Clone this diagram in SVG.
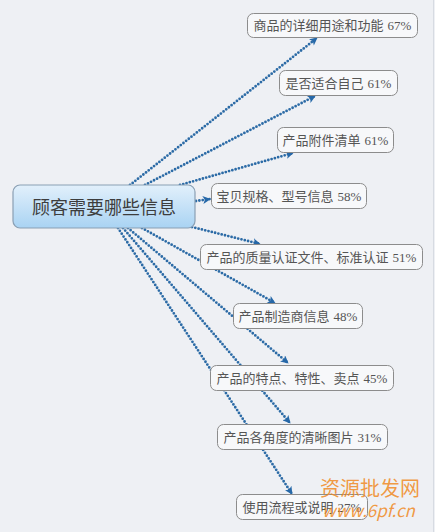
<svg xmlns="http://www.w3.org/2000/svg" width="435" height="532" viewBox="0 0 435 532">
<defs>
<linearGradient id="rootGrad" x1="0" y1="0" x2="0" y2="1">
<stop offset="0" stop-color="#e2f0fb"/>
<stop offset="1" stop-color="#a9d3f3"/>
</linearGradient>
<marker id="arr" viewBox="0 0 10 10" refX="9" refY="5" markerWidth="9" markerHeight="8" markerUnits="userSpaceOnUse" orient="auto">
<path d="M0,0 L10,5 L0,10 L2.5,5 Z" fill="#2668a8"/>
</marker>
</defs>
<style>
.bg{fill:#eef0f4}
.node rect{fill:#f7f8fa;stroke:#8c8c8c;stroke-width:1}
.node text{font-family:"Liberation Serif","Noto Sans CJK SC",serif;font-size:13px;fill:#555;text-anchor:middle}
#root rect{fill:url(#rootGrad);stroke:#8a9fb3;stroke-width:1.2}
#root text{font-family:"Liberation Serif","Noto Sans CJK SC",serif;font-size:18px;fill:#3d3d3d;text-anchor:middle}
#connectors path{fill:none;stroke:#2c6ba6;stroke-width:2.8;stroke-linecap:round;stroke-dasharray:0 3.4;marker-end:url(#arr)}
.wm{font-family:"Noto Sans CJK SC",sans-serif;fill:#f08a24;fill-opacity:0.85}
</style>
<rect class="bg" x="0" y="0" width="435" height="532"/>
<line x1="433.5" y1="0" x2="433.5" y2="532" stroke="#d7dbe2" stroke-width="1"/>

<g id="connectors">
<path d="M130,185 L317,38"/>
<path d="M145,185 L315,96"/>
<path d="M180,185 L293,153"/>
<path d="M196,201 L210,199"/>
<path d="M192,227 L260,244"/>
<path d="M142,228 L275,303"/>
<path d="M128,228 L288,363"/>
<path d="M123,228 L290,423"/>
<path d="M118,228 L292,494"/>
</g>

<g id="root">
<rect x="13" y="185" width="182" height="43" rx="7"/>
<text x="104" y="213.5">顾客需要哪些信息</text>
</g>

<g id="n1" class="node">
<rect x="247.5" y="13.5" width="170" height="24" rx="6"/>
<text x="332.5" y="30">商品的详细用途和功能<tspan dx="4">67%</tspan></text>
</g>
<g id="n2" class="node">
<rect x="279.5" y="70.5" width="118" height="25" rx="6"/>
<text x="338.5" y="87.5">是否适合自己<tspan dx="4">61%</tspan></text>
</g>
<g id="n3" class="node">
<rect x="277.5" y="127.5" width="116" height="25" rx="6"/>
<text x="335.5" y="144.5">产品附件清单<tspan dx="4">61%</tspan></text>
</g>
<g id="n4" class="node">
<rect x="211.5" y="183.5" width="155" height="25" rx="6"/>
<text x="289" y="200.5">宝贝规格、型号信息<tspan dx="4">58%</tspan></text>
</g>
<g id="n5" class="node">
<rect x="200.5" y="244.5" width="222" height="25" rx="6"/>
<text x="311.5" y="261.5">产品的质量认证文件、标准认证<tspan dx="4">51%</tspan></text>
</g>
<g id="n6" class="node">
<rect x="233.5" y="303.5" width="129" height="25" rx="6"/>
<text x="298" y="320.5">产品制造商信息<tspan dx="4">48%</tspan></text>
</g>
<g id="n7" class="node">
<rect x="210.5" y="365.5" width="183" height="25" rx="6"/>
<text x="302" y="382.5">产品的特点、特性、卖点<tspan dx="4">45%</tspan></text>
</g>
<g id="n8" class="node">
<rect x="217.5" y="424.5" width="170" height="25" rx="6"/>
<text x="302.5" y="441.5">产品各角度的清晰图片<tspan dx="4">31%</tspan></text>
</g>
<g id="n9" class="node">
<rect x="236.5" y="494.5" width="131" height="25" rx="6"/>
<text x="302" y="511.5">使用流程或说明<tspan dx="4">27%</tspan></text>
</g>

<text class="wm" x="320" y="496" font-size="20">资源批发网</text>
<text class="wm" x="322" y="517" font-size="17" font-style="italic">www.6pf.cn</text>
</svg>
